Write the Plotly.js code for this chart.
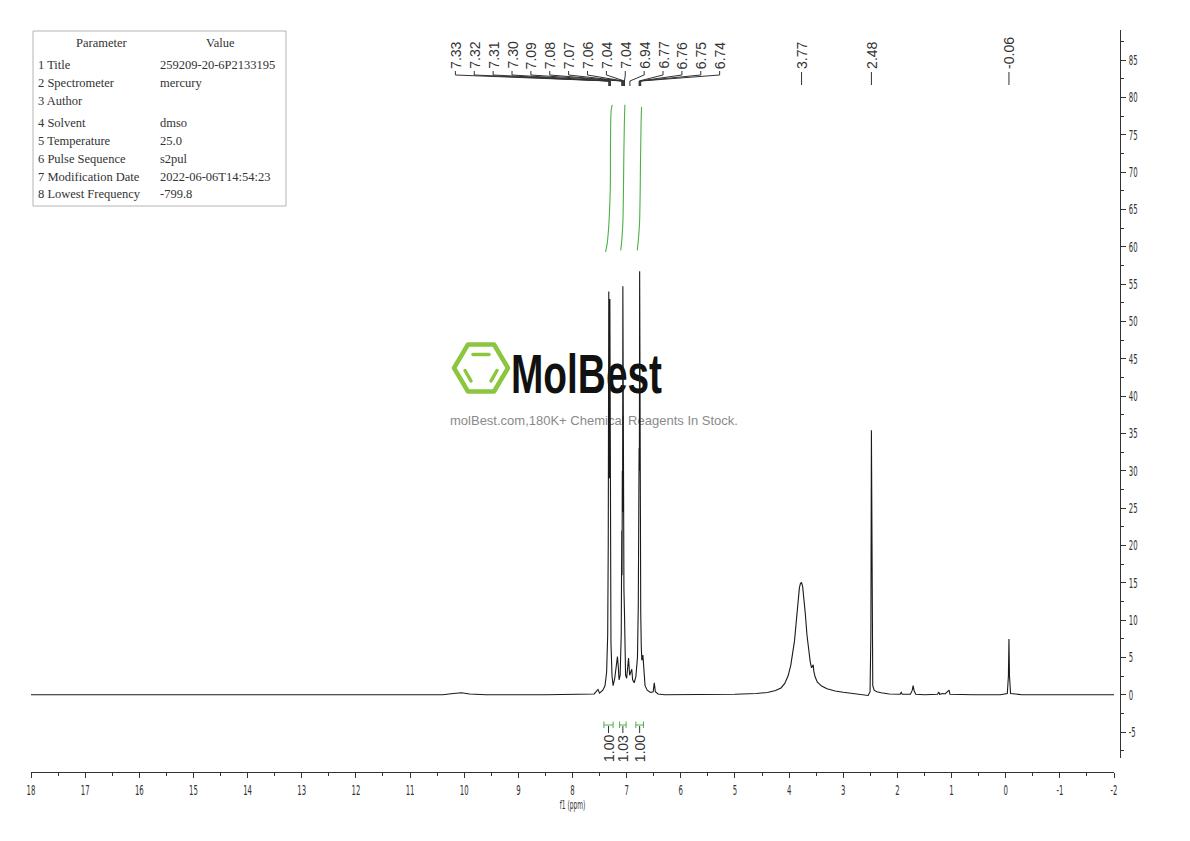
<!DOCTYPE html>
<html>
<head>
<meta charset="utf-8">
<script src="https://cdn.plot.ly/plotly-3.0.1.min.js"></script>
<style>
  html, body { margin: 0; padding: 0; background: #ffffff; }
  #wrap { position: relative; width: 1190px; height: 841px; overflow: hidden; }
  #mark { position: absolute; left: 0; top: 0; z-index: 0; }
  #chart { position: absolute; left: 0; top: 0; width: 1190px; height: 841px; z-index: 1; }
</style>
</head>
<body>
<div id="wrap">
  <!-- brand mark sitting behind the spectrum -->
  <svg id="mark" width="1190" height="841">
    <g fill="none" stroke="#8cc63f" stroke-linejoin="round" stroke-linecap="round">
      <polygon stroke-width="4.5" points="454,368 468,344.5 494,344.5 508,368 494,391.5 468,391.5"/>
      <line stroke-width="3.5" x1="473" y1="354.5" x2="489" y2="354.5"/>
      <line stroke-width="3.5" x1="465" y1="370.5" x2="471" y2="381"/>
      <line stroke-width="3.5" x1="497" y1="370.5" x2="491" y2="381"/>
    </g>
    <text x="511" y="393" font-family="Liberation Sans, Arial, sans-serif" font-weight="bold" font-size="56"
          textLength="151" lengthAdjust="spacingAndGlyphs" fill="#111111">MolBest</text>
    <text x="594" y="425" text-anchor="middle" font-family="Liberation Sans, Arial, sans-serif" font-size="13"
          fill="#8a8a8a">molBest.com,180K+ Chemical Reagents In Stock.</text>
  </svg>
  <div id="chart"></div>
</div>
<script>
// 1H NMR spectrum samples: chemical shift (ppm) and intensity
const shiftPpm = [
  18, 16, 12, 10.4, 10.2, 10.05, 9.9, 9.6, 8.5, 7.70,
  7.60, 7.53, 7.50, 7.44, 7.40, 7.37, 7.35, 7.34, 7.33, 7.325,
  7.32, 7.315, 7.31, 7.305, 7.30, 7.29, 7.27, 7.25, 7.22, 7.19,
  7.17, 7.155, 7.14, 7.12, 7.10, 7.09, 7.085, 7.08, 7.075, 7.07,
  7.065, 7.06, 7.055, 7.05, 7.04, 7.035, 7.02, 7.00, 6.98, 6.965,
  6.945, 6.925, 6.905, 6.89, 6.86, 6.83, 6.80, 6.785, 6.775, 6.77,
  6.765, 6.76, 6.755, 6.75, 6.745, 6.74, 6.73, 6.72, 6.70, 6.685,
  6.66, 6.62, 6.56, 6.51, 6.49, 6.47, 6.42, 6.30, 5.50, 5.00,
  4.60, 4.40, 4.25, 4.15, 4.08, 4.02, 3.97, 3.93, 3.90, 3.87,
  3.84, 3.81, 3.79, 3.77, 3.75, 3.73, 3.70, 3.67, 3.64, 3.61,
  3.585, 3.565, 3.555, 3.545, 3.52, 3.48, 3.40, 3.30, 3.15, 3.00,
  2.80, 2.62, 2.54, 2.505, 2.49, 2.48, 2.47, 2.455, 2.43, 2.38,
  2.30, 2.15, 1.95, 1.93, 1.91, 1.76, 1.725, 1.71, 1.69, 1.66,
  1.50, 1.26, 1.235, 1.22, 1.16, 1.12, 1.045, 1.03, 0.60, 0.10,
  -0.03, -0.05, -0.06, -0.07, -0.09, -0.30, -2
];
const intensity = [
  0, 0, 0, 0, 0.15, 0.25, 0.1, 0, 0, 0,
  0.1, 0.7, 0.2, 0.6, 1.2, 3, 8, 20, 54, 29,
  38, 29, 53, 28, 24, 7, 2.5, 1.2, 2.2, 4.0,
  5.1, 3.8, 2.0, 2.6, 8, 22, 16, 30, 24.5, 54.7,
  24.5, 48, 20, 14, 11, 6, 2.6, 2.2, 3.8, 4.9,
  2.6, 3.2, 3.4, 2.0, 1.6, 2.4, 5, 12, 25, 33,
  30, 56.7, 26, 30, 14, 11, 6.5, 4.6, 5.3, 3,
  1.2, 0.6, 0.3, 0.4, 1.6, 0.4, 0.1, 0, 0, 0.05,
  0.15, 0.3, 0.55, 0.9, 1.5, 2.5, 3.9, 5.6, 7.2, 9.6,
  12.4, 14.3, 14.9, 15.0, 14.5, 13.2, 10.8, 8.0, 5.8, 4.4,
  3.6, 3.9, 4.0, 3.2, 2.4, 1.7, 1.15, 0.8, 0.5, 0.32,
  0.18, 0.05, -0.1, 0.4, 8, 35.4, 8, 1.2, 0.6, 0.4,
  0.25, 0.1, 0.05, 0.3, 0.05, 0.05, 0.6, 1.2, 0.5, 0.05,
  0, 0.05, 0.35, 0.05, 0.15, 0.1, 0.6, 0.05, 0, 0,
  0.15, 2.5, 7.45, 2.5, 0.15, 0, 0
];

// Peak picks: aromatic multiplets (fanned labels) and isolated singlets
const multipletPeaks = [7.33, 7.32, 7.31, 7.30, 7.09, 7.08, 7.07, 7.06, 7.04, 7.04, 6.94, 6.77, 6.76, 6.75, 6.74];
const singletPeaks = [3.77, 2.48, -0.06];

// Integral regions (ppm) and their normalised areas
const integralFrom = [7.42, 7.13, 6.83];
const integralTo = [7.25, 7.01, 6.69];
const integralArea = [1.00, 1.03, 1.00];

// Running-integral curves drawn over each region
const integral1Ppm = [7.39, 7.362, 7.335, 7.303, 7.298, 7.285, 7.267];
const integral1Val = [59.3, 60.3, 62.3, 67.6, 74.3, 78.3, 79.0];
const integral2Ppm = [7.109, 7.09, 7.07, 7.052, 7.043, 7.033];
const integral2Val = [59.5, 60.9, 63.2, 72.0, 76.3, 79.0];
const integral3Ppm = [6.804, 6.784, 6.762, 6.743, 6.734, 6.725];
const integral3Val = [59.5, 60.9, 63.2, 72.0, 76.3, 78.7];

// Acquisition parameters table
const paramNames = ['1 Title', '2 Spectrometer', '3 Author', '4 Solvent', '5 Temperature',
                    '6 Pulse Sequence', '7 Modification Date', '8 Lowest Frequency'];
const paramValues = ['259209-20-6P2133195', 'mercury', '', 'dmso', '25.0',
                     's2pul', '2022-06-06T14:54:23', '-799.8'];

// Axis ticks
const xTickVals = [18, 17, 16, 15, 14, 13, 12, 11, 10, 9, 8, 7, 6, 5, 4, 3, 2, 1, 0, -1, -2];
const yTickVals = [-5, 0, 5, 10, 15, 20, 25, 30, 35, 40, 45, 50, 55, 60, 65, 70, 75, 80, 85];

// ---- layout geometry (pixels) ----
const W = 1190, H = 841;
const ML = 31, MR = 70, MT = 30, MB = 69;
const PW = W - ML - MR, PH = H - MT - MB;
const PLOT_BOTTOM = H - MB;
const px2x = px => (px - ML) / PW;
const py2y = py => (PLOT_BOTTOM - py) / PH;

const INK = '#333333';
const GREEN = '#4daf4a';
const AXISFONT = "'DejaVu Sans Condensed', 'DejaVu Sans', sans-serif";
const SANS = "'Liberation Sans', Arial, sans-serif";
const SERIF = "'Liberation Serif', 'Times New Roman', serif";

const traces = [];
traces.push({
  x: shiftPpm, y: intensity, type: 'scatter', mode: 'lines',
  line: { color: '#1a1a1a', width: 1.1 }, hoverinfo: 'skip', showlegend: false
});
[[integral1Ppm, integral1Val], [integral2Ppm, integral2Val], [integral3Ppm, integral3Val]].forEach(([xs, ys]) => {
  traces.push({
    x: xs, y: ys, type: 'scatter', mode: 'lines',
    line: { color: GREEN, width: 1.1, shape: 'spline' }, hoverinfo: 'skip', showlegend: false
  });
});

const shapes = [];
const annotations = [];

// parameters box
shapes.push({ type: 'rect', xref: 'paper', yref: 'paper',
  x0: px2x(33), x1: px2x(286), y0: py2y(31), y1: py2y(206),
  line: { color: '#b4b4b4', width: 1 }, fillcolor: 'rgba(255,255,255,0)' });
const tableFont = { family: SERIF, size: 12.5, color: INK };
annotations.push({ xref: 'paper', yref: 'paper', x: px2x(102), y: py2y(43), text: 'Parameter',
  showarrow: false, xanchor: 'center', yanchor: 'middle', font: tableFont });
annotations.push({ xref: 'paper', yref: 'paper', x: px2x(220), y: py2y(43), text: 'Value',
  showarrow: false, xanchor: 'center', yanchor: 'middle', font: tableFont });
const rowY = [65, 83, 101, 123, 141, 159, 177, 194];
paramNames.forEach((name, i) => {
  annotations.push({ xref: 'paper', yref: 'paper', x: px2x(36), y: py2y(rowY[i]), text: name,
    showarrow: false, xanchor: 'left', yanchor: 'middle', font: tableFont });
  if (paramValues[i]) {
    annotations.push({ xref: 'paper', yref: 'paper', x: px2x(158), y: py2y(rowY[i]), text: paramValues[i],
      showarrow: false, xanchor: 'left', yanchor: 'middle', font: tableFont });
  }
});

// fanned multiplet labels with leader lines down to each pick
const labelFont = { family: SANS, size: 14, color: INK };
const fanCentre = 7.7227, fanStep = 0.3486;
const nFan = multipletPeaks.length;
multipletPeaks.forEach((p, i) => {
  const lx = fanCentre + ((nFan - 1) / 2 - i) * fanStep;
  annotations.push({ xref: 'x', yref: 'paper', x: lx, y: py2y(71), text: p.toFixed(2),
    textangle: -90, showarrow: false, xanchor: 'center', yanchor: 'bottom', font: labelFont });
  shapes.push({ type: 'path', xref: 'x', yref: 'paper',
    path: `M ${lx},${py2y(71)} L ${lx},${py2y(75)} L ${p},${py2y(81)} L ${p},${py2y(86)}`,
    line: { color: INK, width: 1 } });
});
// singlet labels directly above their peaks
singletPeaks.forEach(p => {
  annotations.push({ xref: 'x', yref: 'paper', x: p, y: py2y(71), text: p.toFixed(2),
    textangle: -90, showarrow: false, xanchor: 'center', yanchor: 'bottom', font: labelFont });
  shapes.push({ type: 'line', xref: 'x', yref: 'paper', x0: p, x1: p, y0: py2y(72), y1: py2y(85),
    line: { color: INK, width: 1 } });
});

// integral brackets and values under the baseline
integralFrom.forEach((a, i) => {
  const b = integralTo[i];
  const c = (a + b) / 2;
  shapes.push({ type: 'line', xref: 'x', yref: 'paper', x0: a, x1: b, y0: py2y(725), y1: py2y(725),
    line: { color: GREEN, width: 1 } });
  shapes.push({ type: 'line', xref: 'x', yref: 'paper', x0: a, x1: a, y0: py2y(721.5), y1: py2y(728),
    line: { color: GREEN, width: 1 } });
  shapes.push({ type: 'line', xref: 'x', yref: 'paper', x0: b, x1: b, y0: py2y(721.5), y1: py2y(728),
    line: { color: GREEN, width: 1 } });
  shapes.push({ type: 'line', xref: 'x', yref: 'paper', x0: c, x1: c, y0: py2y(726), y1: py2y(733),
    line: { color: INK, width: 1 } });
  annotations.push({ xref: 'x', yref: 'paper', x: c, y: py2y(733), text: integralArea[i].toFixed(2),
    textangle: -90, showarrow: false, xanchor: 'center', yanchor: 'top', font: labelFont });
});

const layout = {
  width: W, height: H,
  margin: { l: ML, r: MR, t: MT, b: MB, pad: 0 },
  paper_bgcolor: 'rgba(0,0,0,0)', plot_bgcolor: 'rgba(0,0,0,0)',
  showlegend: false,
  xaxis: {
    domain: [0, (1114 - ML) / PW],
    range: [18, -2], anchor: 'free', position: 0,
    showline: true, linecolor: INK, linewidth: 1, mirror: false,
    showgrid: false, zeroline: false,
    ticks: 'outside', ticklen: 5, tickwidth: 1, tickcolor: INK,
    tickvals: xTickVals, ticktext: xTickVals.map(String),
    minor: { dtick: 0.5, tick0: 0, ticks: 'outside', ticklen: 3, tickcolor: INK, showgrid: false },
    tickfont: { family: AXISFONT, size: 14, color: INK },
    title: { text: 'f1 (ppm)', font: { family: AXISFONT, size: 12, color: INK }, standoff: 1 }
  },
  yaxis: {
    domain: [(PLOT_BOTTOM - 758) / PH, 1],
    range: [-8.48, 89.02], side: 'right', anchor: 'free', position: 1,
    showline: true, linecolor: INK, linewidth: 1,
    showgrid: false, zeroline: false,
    ticks: 'outside', ticklen: 5, tickwidth: 1, tickcolor: INK,
    tickvals: yTickVals, ticktext: yTickVals.map(String),
    minor: { dtick: 2.5, tick0: 0, ticks: 'outside', ticklen: 3, tickcolor: INK, showgrid: false },
    tickfont: { family: AXISFONT, size: 14, color: INK }
  },
  shapes: shapes,
  annotations: annotations
};

// squeeze axis lettering horizontally into a tall, narrow face
function condenseAxisText(gd) {
  gd.querySelectorAll('.xtick text, .ytick text, .xtitle').forEach(t => {
    const x = parseFloat(t.getAttribute('x')) || 0;
    const y = parseFloat(t.getAttribute('y')) || 0;
    const tr = t.getAttribute('transform') || '';
    t.setAttribute('transform', `${tr} translate(${x},${y}) scale(0.55,1) translate(${-x},${-y})`);
  });
}

Plotly.newPlot('chart', traces, layout, { staticPlot: true, displayModeBar: false })
  .then(condenseAxisText);
</script>
</body>
</html>
